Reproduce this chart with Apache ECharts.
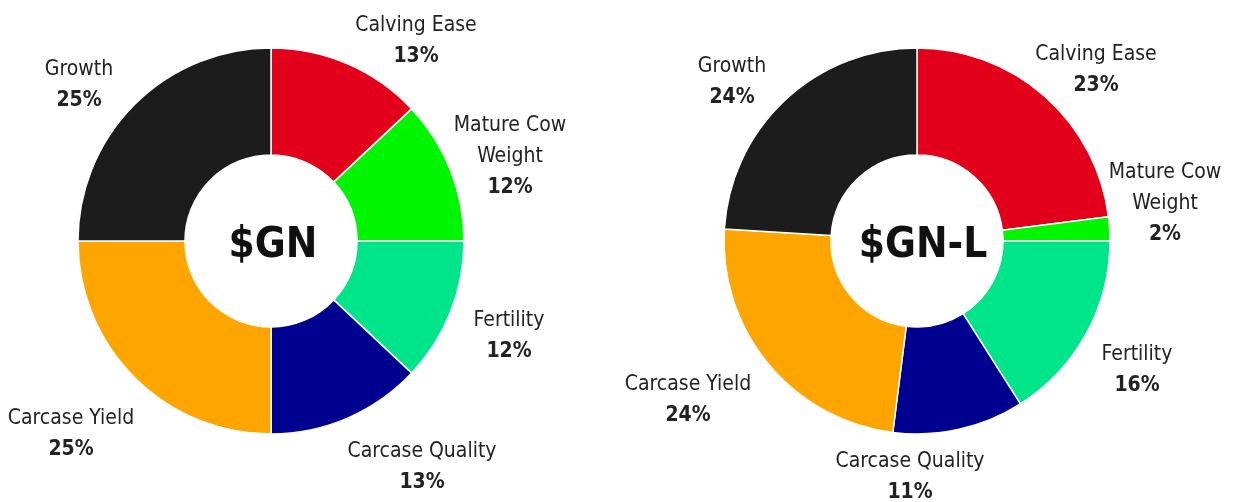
<!DOCTYPE html>
<html>
<head>
<meta charset="utf-8">
<script src="https://cdn.jsdelivr.net/npm/echarts@6/dist/echarts.min.js"></script>
<style>
  html, body { margin: 0; padding: 0; background: #fff; }
  #main { width: 1235px; height: 502px; }
</style>
</head>
<body>
<div id="main"></div>
<script>
// data
var categories = ['Calving Ease', 'Mature Cow\nWeight', 'Fertility', 'Carcase Quality', 'Carcase Yield', 'Growth'];
var gnValues = [13, 12, 12, 13, 25, 25];
var gnlValues = [23, 2, 16, 11, 24, 24];
var chartTitles = ['$GN', '$GN-L'];

var colors = ['#e2001a', '#00f500', '#00e58a', '#000090', '#ffa500', '#1c1c1c'];
var FONT = "'DejaVu Sans Condensed', 'Liberation Sans Narrow', 'Noto Sans', sans-serif";

// where each label block sits (centre), per chart
var labelPosGN = [[416, 41], [510, 157], [509, 336], [422, 467], [71, 434], [79, 85]];
var labelPosGNL = [[1096, 70], [1165, 204], [1137, 370], [910, 477], [688, 400], [732, 82]];

var dom = document.getElementById('main');
var myChart = echarts.init(dom);

function buildSeries(values, center, labelPos) {
    return {
        type: 'pie',
        center: center,
        radius: [86, 193],
        startAngle: 90,
        clockwise: true,
        silent: true,
        itemStyle: {
            borderColor: '#fff',
            borderWidth: 1.5
        },
        label: {
            show: true,
            position: 'outside',
            overflow: 'none',
            formatter: function (p) {
                return '{n|' + p.name + '}\n{v|' + p.value + '%}';
            },
            rich: {
                n: {
                    fontFamily: FONT,
                    fontSize: 21,
                    color: '#222',
                    lineHeight: 31,
                    align: 'center'
                },
                v: {
                    fontFamily: FONT,
                    fontWeight: 'bold',
                    fontSize: 21,
                    color: '#222',
                    lineHeight: 31,
                    align: 'center'
                }
            }
        },
        labelLine: { show: false },
        labelLayout: function (params) {
            var pos = labelPos[params.dataIndex];
            return { x: pos[0], y: pos[1], align: 'center', verticalAlign: 'middle', hideOverlap: false };
        },
        data: values.map(function (v, i) {
            return { name: categories[i], value: v, itemStyle: { color: colors[i] } };
        })
    };
}

var option = {
    backgroundColor: '#fff',
    animation: false,
    title: [
        {
            text: chartTitles[0], left: 268, top: 241, textAlign: 'center', textVerticalAlign: 'middle',
            textStyle: { fontFamily: FONT, fontWeight: 'bold', fontSize: 42, color: '#111' }
        },
        {
            text: chartTitles[1], left: 918, top: 241, textAlign: 'center', textVerticalAlign: 'middle',
            textStyle: { fontFamily: FONT, fontWeight: 'bold', fontSize: 42, color: '#111' }
        }
    ],
    series: [
        buildSeries(gnValues, [271, 241], labelPosGN),
        buildSeries(gnlValues, [917, 241], labelPosGNL)
    ]
};

myChart.setOption(option);
</script>
</body>
</html>
